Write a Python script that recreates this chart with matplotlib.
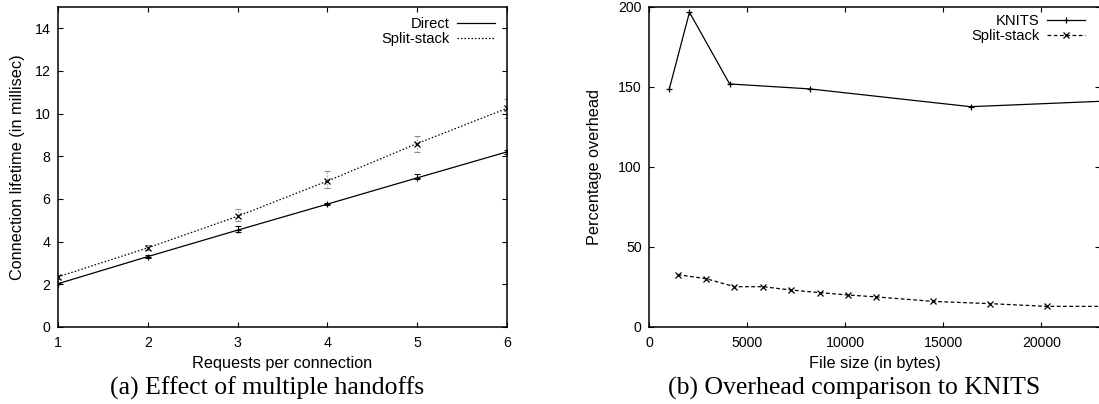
import matplotlib.pyplot as plt
import matplotlib.lines as mlines

plt.rcParams['font.family'] = ['Liberation Sans', 'DejaVu Sans']

# (a) connection lifetime vs requests per connection
requests = [1, 2, 3, 4, 5, 6]
direct_ms = [2.03, 3.30, 4.54, 5.76, 6.99, 8.21]
direct_lo = [2.00, 3.25, 4.47, 5.70, 6.93, 8.12]
direct_hi = [2.08, 3.36, 4.72, 5.82, 7.15, 8.32]
split_ms = [2.35, 3.71, 5.19, 6.84, 8.60, 10.25]
split_lo = [2.25, 3.60, 4.96, 6.52, 8.20, 9.78]
split_hi = [2.45, 3.86, 5.55, 7.30, 8.95, 10.70]

# (b) overhead vs file size
knits_size = [1024, 2048, 4096, 8192, 16384, 32768]
knits_pct = [149, 196.7, 151.9, 148.8, 137.7, 146]
split_size = [1448, 2896, 4344, 5792, 7240, 8688, 10136, 11584, 14480, 17376, 20272, 23168]
split_pct = [32.7, 30.2, 25.2, 25.2, 23.1, 21.5, 20.0, 18.8, 16.0, 14.6, 12.9, 12.9]

fig = plt.figure(figsize=(10.99, 4.04), dpi=100)
ax1 = fig.add_axes([58 / 1099, 77 / 404, 449 / 1099, 320 / 404])
ax2 = fig.add_axes([649.3 / 1099, 77 / 404, 451 / 1099, 320 / 404])

lw = 0.9
tick_fs = 10.2
lab_fs = 11.7
leg_fs = 10.6
dotted = (0, (1.2, 1.6))

# --- left panel ---
d_err = [[v - l for v, l in zip(direct_ms, direct_lo)], [h - v for v, h in zip(direct_ms, direct_hi)]]
s_err = [[v - l for v, l in zip(split_ms, split_lo)], [h - v for v, h in zip(split_ms, split_hi)]]
ax1.errorbar(requests, direct_ms, yerr=d_err, fmt='none', ecolor='black', elinewidth=0.7, capsize=2, capthick=0.7)
eb = ax1.errorbar(requests, split_ms, yerr=s_err, fmt='none', ecolor='0.55', elinewidth=0.8, capsize=2.5, capthick=0.8)
eb[2][0].set_linestyle(':')
ax1.plot(requests, direct_ms, color='black', lw=lw, marker='+', ms=5, mew=0.9)
ax1.plot(requests, split_ms, color='black', lw=lw, ls=dotted, marker='x', ms=4, mew=0.9)
ax1.set_xlim(1, 6)
ax1.set_ylim(0, 15)
ax1.set_yticks(range(0, 15, 2))
ax1.set_xlabel('Requests per connection', fontsize=lab_fs)
ax1.set_ylabel('Connection lifetime (in millisec)', fontsize=lab_fs)
ax1.xaxis.set_label_coords(0.5, -0.09)
ax1.yaxis.set_label_coords(-0.0735, 0.5)
leg_h = [mlines.Line2D([], [], color='black', lw=lw),
         mlines.Line2D([], [], color='black', lw=lw, ls=dotted)]
ax1.legend(leg_h, ['Direct', 'Split-stack'], loc='upper right', bbox_to_anchor=(0.973, 0.968),
           frameon=False, markerfirst=False, fontsize=leg_fs, handlelength=2.6,
           borderpad=0, borderaxespad=0, labelspacing=0.05, handletextpad=0.5)

# --- right panel ---
ax2.plot(knits_size, knits_pct, color='black', lw=lw, marker='+', ms=5, mew=0.9, label='KNITS')
ax2.plot(split_size, split_pct, color='black', lw=lw, ls=(0, (3, 2)), marker='x', ms=4, mew=0.9,
         label='Split-stack')
ax2.set_xlim(0, 23000)
ax2.set_ylim(0, 200)
ax2.set_xticks(range(0, 20001, 5000))
ax2.set_yticks(range(0, 201, 50))
ax2.set_xlabel('File size (in bytes)', fontsize=lab_fs)
ax2.set_ylabel('Percentage overhead', fontsize=lab_fs)
ax2.xaxis.set_label_coords(0.5, -0.09)
ax2.yaxis.set_label_coords(-0.104, 0.5)
ax2.legend(loc='upper right', bbox_to_anchor=(0.966, 0.978), frameon=False, markerfirst=False,
           fontsize=leg_fs, handlelength=2.6, borderpad=0, borderaxespad=0, labelspacing=0.05,
           handletextpad=0.5)

for ax in (ax1, ax2):
    ax.tick_params(direction='in', top=True, right=True, labelsize=tick_fs, length=3.6, width=0.8)
    ax.tick_params(axis='x', pad=6.5)
    ax.tick_params(axis='y', pad=5.5)
    for s in ax.spines.values():
        s.set_linewidth(1.1)

fig.text(0.243, 0.0396, '(a) Effect of multiple handoffs', ha='center', va='center',
         fontsize=18.5, family='Liberation Serif')
fig.text(0.777, 0.0396, '(b) Overhead comparison to KNITS', ha='center', va='center',
         fontsize=18.5, family='Liberation Serif')

fig.savefig('out.png', dpi=100)
